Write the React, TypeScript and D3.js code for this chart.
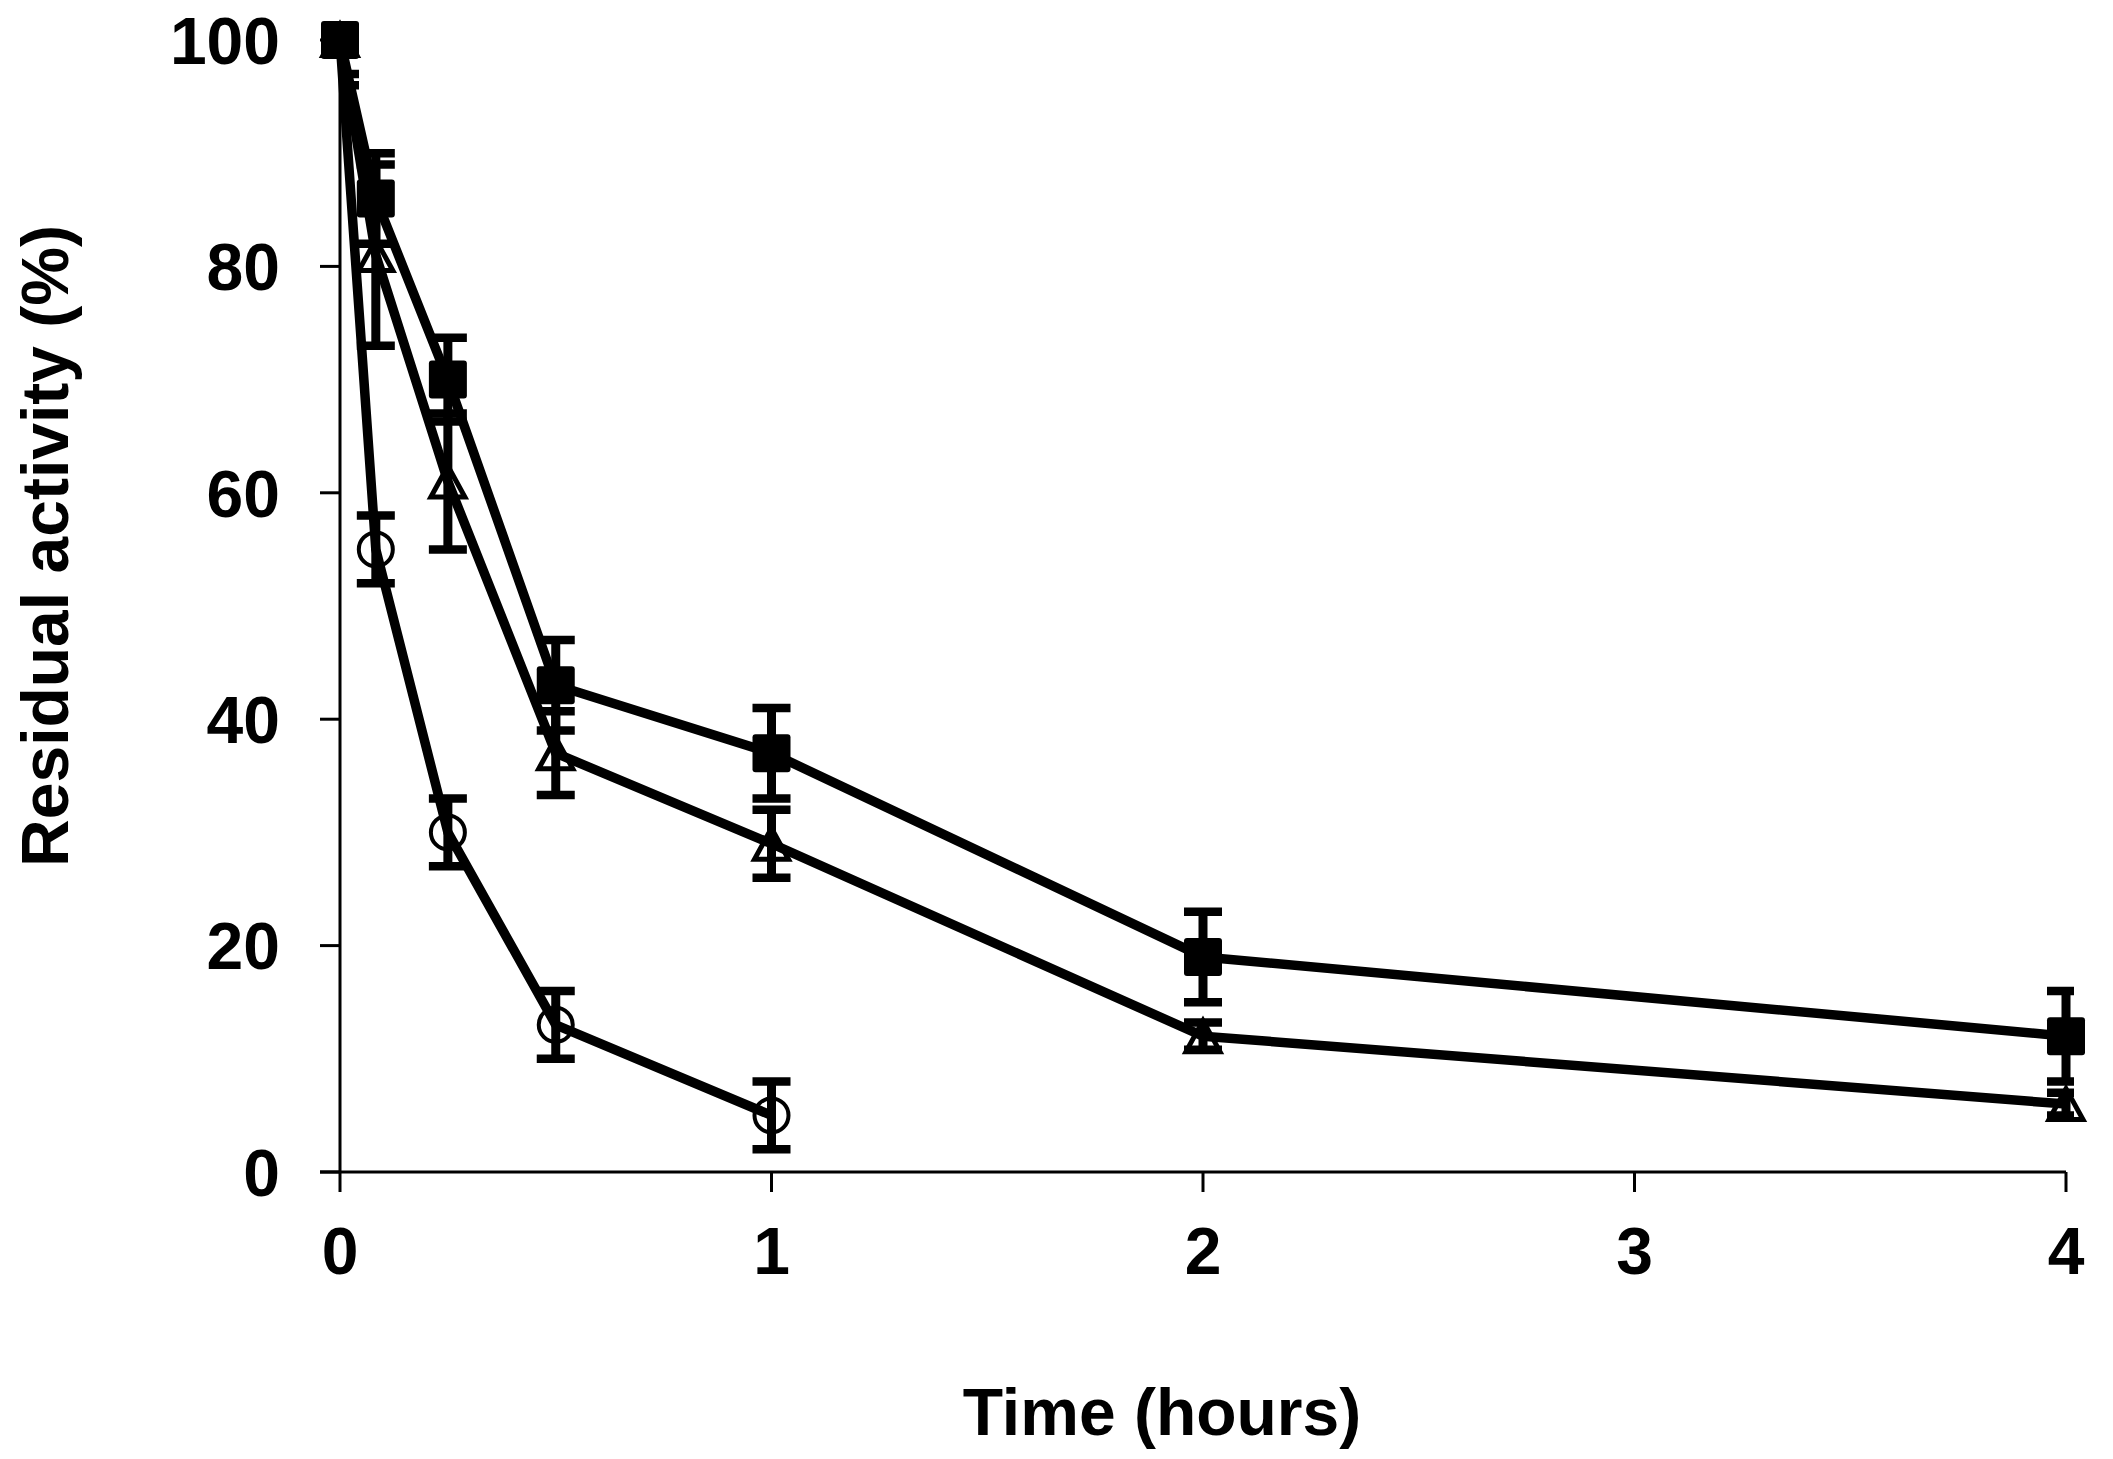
import * as d3 from "d3";

// time points (hours) and residual activity (%) with error bars
const TIME_H = [0, 0.083, 0.25, 0.5, 1, 2, 4];
const SQUARE_Y = [100, 86, 70, 43, 37, 19, 12];
const SQUARE_ERR = [0, 4, 3.7, 4, 4, 4, 4];
const TRIANGLE_Y = [100, 81, 61, 37, 29, 12, 6];
const TRIANGLE_ERR = [4, 8, 6, 3.7, 3, 1.2, 1];
const CIRCLE_T = [0, 0.083, 0.25, 0.5, 1];
const CIRCLE_Y = [100, 55, 30, 13, 5];
const CIRCLE_ERR = [3, 3, 3, 3, 3];

const X_TICKS = [0, 1, 2, 3, 4];
const Y_TICKS = [0, 20, 40, 60, 80, 100];

type Pt = { t: number; v: number; e: number };

const zip = (ts: number[], vs: number[], es: number[]): Pt[] =>
  ts.map((t, i) => ({ t, v: vs[i], e: es[i] }));

// drawing order: circle first, squares on top
const SERIES = [
  { marker: "circle", pts: zip(CIRCLE_T, CIRCLE_Y, CIRCLE_ERR) },
  { marker: "triangle", pts: zip(TIME_H, TRIANGLE_Y, TRIANGLE_ERR) },
  { marker: "square", pts: zip(TIME_H, SQUARE_Y, SQUARE_ERR) },
];

const W = 2113;
const H = 1459;
const FONT = "'Liberation Sans', Arial, sans-serif";

export default function App() {
  const x = d3.scaleLinear().domain([0, 4]).range([340, 2066]);
  const y = d3.scaleLinear().domain([0, 100]).range([1172, 40]);

  const line = d3
    .line<Pt>()
    .x((d) => x(d.t))
    .y((d) => y(d.v));

  const cap = 19;
  const ms = 38; // marker size

  const marker = (kind: string, d: Pt, key: string) => {
    const cx = x(d.t);
    const cy = y(d.v);
    if (kind === "square")
      return (
        <rect key={key} x={cx - ms / 2} y={cy - ms / 2} width={ms} height={ms} rx={3} fill="#000" />
      );
    if (kind === "triangle") {
      const h = 35;
      const p = `M${cx},${cy - h / 2 + 2}L${cx + ms / 2 - 2},${cy + h / 2 - 2}L${cx - ms / 2 + 2},${cy + h / 2 - 2}Z`;
      return <path key={key} d={p} fill="none" stroke="#000" strokeWidth={5} strokeLinejoin="miter" />;
    }
    return <ellipse key={key} cx={cx} cy={cy} rx={ms / 2 - 2} ry={ms / 2 - 2} fill="none" stroke="#000" strokeWidth={4} />;
  };

  return (
    <div style={{ position: "absolute", left: 0, top: 0, width: W, height: H, background: "#fff" }}>
      <svg width={W} height={H} style={{ display: "block" }} fontFamily={FONT}>
        <defs>
          <clipPath id="plot">
            <rect x={340} y={40} width={2074 - 340} height={1172 - 40} />
          </clipPath>
        </defs>
        <rect width={W} height={H} fill="#fff" />

        {/* axes */}
        <line x1={x(0)} x2={x(0)} y1={y(100)} y2={y(0)} stroke="#000" strokeWidth={3} />
        <line x1={x(0) - 20} x2={x(4)} y1={y(0)} y2={y(0)} stroke="#000" strokeWidth={3} />
        {Y_TICKS.map((v) => (
          <g key={"yt" + v}>
            <line x1={x(0) - 20} x2={x(0)} y1={y(v)} y2={y(v)} stroke="#000" strokeWidth={3} />
            <text x={280} y={y(v)} dy="0.36em" textAnchor="end" fontSize={66} fontWeight="bold">
              {v}
            </text>
          </g>
        ))}
        {X_TICKS.map((t) => (
          <g key={"xt" + t}>
            <line x1={x(t)} x2={x(t)} y1={y(0)} y2={y(0) + 20} stroke="#000" strokeWidth={3} />
            <text x={x(t)} y={1274} textAnchor="middle" fontSize={66} fontWeight="bold">
              {t}
            </text>
          </g>
        ))}

        <text x={1162} y={1435} textAnchor="middle" fontSize={66} fontWeight="bold">
          Time (hours)
        </text>
        <text
          transform="translate(68,546) rotate(-90)"
          textAnchor="middle"
          fontSize={66}
          fontWeight="bold"
        >
          Residual activity (%)
        </text>

        {SERIES.map((s, si) => (
          <g key={"s" + si}>
            <path d={line(s.pts) ?? ""} fill="none" stroke="#000" strokeWidth={9.5} strokeLinejoin="round" />
            <g clipPath="url(#plot)">
              {s.pts
                .filter((d) => d.e > 0)
                .map((d, i) => {
                  const cx = x(d.t);
                  const top = y(d.v + d.e);
                  const bot = y(d.v - d.e);
                  return (
                    <g key={"e" + i} stroke="#000">
                      <line x1={cx} x2={cx} y1={top} y2={bot} strokeWidth={9} />
                      <line x1={cx - cap} x2={cx + cap} y1={top} y2={top} strokeWidth={8.5} />
                      <line x1={cx - cap} x2={cx + cap} y1={bot} y2={bot} strokeWidth={8.5} />
                    </g>
                  );
                })}
            </g>
            {s.pts.map((d, i) => marker(s.marker, d, "m" + i))}
          </g>
        ))}
      </svg>
    </div>
  );
}
